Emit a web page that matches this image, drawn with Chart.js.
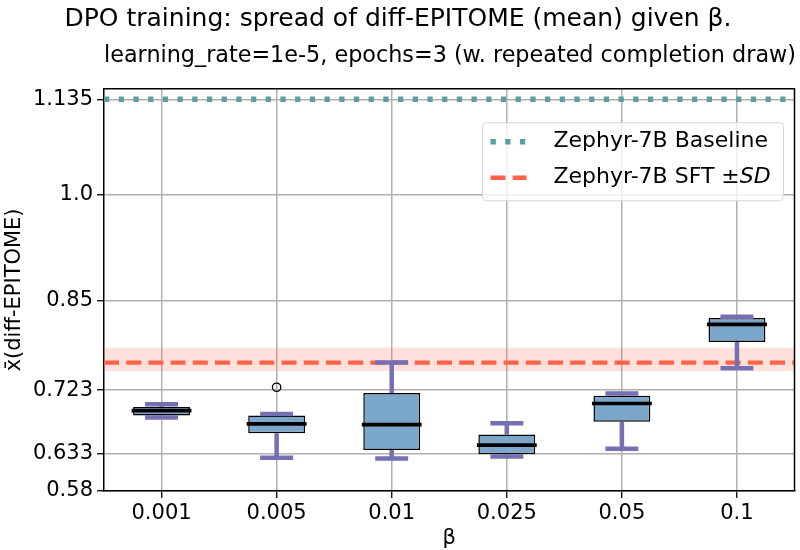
<!DOCTYPE html>
<html>
<head>
<meta charset="utf-8">
<script src="https://cdn.jsdelivr.net/npm/chart.js@4.4.1/dist/chart.umd.min.js"></script>
<style>
  html, body { margin: 0; padding: 0; background: #fff; }
  #wrap { width: 800px; height: 550px; }
</style>
</head>
<body>
<div id="wrap"><canvas id="boxChart" width="800" height="550"></canvas></div>
<script>
// categories (beta values)
const betas = ["0.001", "0.005", "0.01", "0.025", "0.05", "0.1"];

// box plot statistics
const whiskerLow = [0.684, 0.627, 0.626, 0.629, 0.640, 0.754];
const q1 = [0.687, 0.662, 0.638, 0.632, 0.678, 0.791];
const medians = [0.694, 0.675, 0.674, 0.645, 0.704, 0.816];
const q3 = [0.699, 0.687, 0.719, 0.660, 0.715, 0.825];
const whiskerHigh = [0.703, 0.689, 0.762, 0.676, 0.718, 0.827];
const outliers = [null, 0.727, null, null, null, null];

// reference lines
const baselineValue = 1.135;
const sftMean = 0.762;
const sftBand = [0.750, 0.783];

// y axis ticks
const yTicks = [0.58, 0.633, 0.723, 0.85, 1.0, 1.135];
const yTickLabels = ["0.58", "0.633", "0.723", "0.85", "1.0", "1.135"];

Chart.defaults.font.family = "'DejaVu Sans', sans-serif";
Chart.defaults.color = "#000";

const WHISKER_COLOR = "#7570b3";
const BOX_FILL = "#7ba7cb";
const BASELINE_COLOR = "#5f9ea0";
const SFT_COLOR = "#ff6347";
const BASELINE_DASH = [5.3, 9.4];
const SFT_DASH = [15, 7.2];

// whiskers, caps, medians and plot frame
const boxExtras = {
  id: "boxExtras",
  afterDatasetsDraw(chart) {
    const ctx = chart.ctx;
    const x = chart.scales.x;
    const y = chart.scales.y;
    const cat = x.width / betas.length;
    ctx.save();
    betas.forEach((b, i) => {
      const xc = x.getPixelForValue(i);
      // whiskers
      ctx.strokeStyle = WHISKER_COLOR;
      ctx.lineWidth = 4.5;
      ctx.lineCap = "butt";
      ctx.beginPath();
      ctx.moveTo(xc, y.getPixelForValue(q3[i]));
      ctx.lineTo(xc, y.getPixelForValue(whiskerHigh[i]));
      ctx.moveTo(xc, y.getPixelForValue(q1[i]));
      ctx.lineTo(xc, y.getPixelForValue(whiskerLow[i]));
      ctx.stroke();
      // caps
      const capHalf = cat * 0.143;
      ctx.beginPath();
      ctx.moveTo(xc - capHalf, y.getPixelForValue(whiskerHigh[i]));
      ctx.lineTo(xc + capHalf, y.getPixelForValue(whiskerHigh[i]));
      ctx.moveTo(xc - capHalf, y.getPixelForValue(whiskerLow[i]));
      ctx.lineTo(xc + capHalf, y.getPixelForValue(whiskerLow[i]));
      ctx.stroke();
      // median
      const medHalf = cat * 0.26;
      ctx.strokeStyle = "#000";
      ctx.lineWidth = 3.7;
      ctx.beginPath();
      ctx.moveTo(xc - medHalf, y.getPixelForValue(medians[i]));
      ctx.lineTo(xc + medHalf, y.getPixelForValue(medians[i]));
      ctx.stroke();
    });
    // frame (top and right)
    const a = chart.chartArea;
    ctx.strokeStyle = "#000";
    ctx.lineWidth = 1.5;
    ctx.beginPath();
    ctx.moveTo(a.left, a.top);
    ctx.lineTo(a.right, a.top);
    ctx.lineTo(a.right, a.bottom);
    ctx.stroke();
    ctx.restore();
  },
  afterDraw(chart) {
    // legend box in the upper right of the plot
    const ctx = chart.ctx;
    const a = chart.chartArea;
    const bx = a.right - 312, by = a.top + 34, bw = 301, bh = 78;
    ctx.save();
    ctx.beginPath();
    ctx.roundRect(bx, by, bw, bh, 4);
    ctx.fillStyle = "rgba(255,255,255,0.8)";
    ctx.fill();
    ctx.strokeStyle = "#d6d6d6";
    ctx.lineWidth = 1;
    ctx.stroke();

    const lx0 = bx + 8, lx1 = bx + 44, tx = bx + 71;
    const row1 = by + 19, row2 = by + 55;
    ctx.lineCap = "butt";
    ctx.strokeStyle = BASELINE_COLOR;
    ctx.lineWidth = 5.5;
    ctx.setLineDash(BASELINE_DASH);
    ctx.beginPath(); ctx.moveTo(lx0, row1); ctx.lineTo(lx1, row1); ctx.stroke();
    ctx.strokeStyle = SFT_COLOR;
    ctx.lineWidth = 4.3;
    ctx.setLineDash(SFT_DASH);
    ctx.beginPath(); ctx.moveTo(lx0, row2); ctx.lineTo(lx1, row2); ctx.stroke();
    ctx.setLineDash([]);

    ctx.fillStyle = "#000";
    ctx.textBaseline = "middle";
    ctx.textAlign = "left";
    ctx.font = "22px 'DejaVu Sans'";
    ctx.fillText("Zephyr-7B Baseline", tx, row1);
    const t2 = "Zephyr-7B SFT \u00b1";
    ctx.fillText(t2, tx, row2);
    const w2 = ctx.measureText(t2).width;
    ctx.font = "oblique 22px 'DejaVu Sans'";
    ctx.fillText("SD", tx + w2, row2);
    ctx.restore();
  }
};

const ctx = document.getElementById("boxChart").getContext("2d");
const boxChart = new Chart(ctx, {
  type: "bar",
  data: {
    labels: betas,
    datasets: [
      {
        type: "line",
        label: "SFT +SD",
        xAxisID: "x2",
        data: [{ x: -0.5, y: sftBand[1] }, { x: 5.5, y: sftBand[1] }],
        borderWidth: 0,
        borderColor: "rgba(0,0,0,0)",
        pointRadius: 0,
        fill: "+1",
        backgroundColor: "rgba(255, 99, 71, 0.2)",
        order: 6,
      },
      {
        type: "line",
        label: "SFT -SD",
        xAxisID: "x2",
        data: [{ x: -0.5, y: sftBand[0] }, { x: 5.5, y: sftBand[0] }],
        borderWidth: 0,
        borderColor: "rgba(0,0,0,0)",
        pointRadius: 0,
        fill: false,
        order: 5,
      },
      {
        type: "line",
        label: "Zephyr-7B SFT",
        xAxisID: "x2",
        data: [{ x: -0.5, y: sftMean }, { x: 5.5, y: sftMean }],
        borderColor: SFT_COLOR,
        borderWidth: 4.3,
        borderDash: SFT_DASH,
        borderCapStyle: "butt",
        pointRadius: 0,
        fill: false,
        order: 4,
      },
      {
        type: "line",
        label: "Zephyr-7B Baseline",
        xAxisID: "x2",
        data: [{ x: -0.5, y: baselineValue }, { x: 5.5, y: baselineValue }],
        borderColor: BASELINE_COLOR,
        borderWidth: 5.5,
        borderDash: BASELINE_DASH,
        borderCapStyle: "butt",
        pointRadius: 0,
        fill: false,
        order: 3,
      },
      {
        type: "bar",
        label: "IQR",
        data: betas.map((b, i) => [q1[i], q3[i]]),
        backgroundColor: BOX_FILL,
        borderColor: "#000",
        borderWidth: 1.5,
        borderSkipped: false,
        grouped: false,
        barPercentage: 0.494,
        categoryPercentage: 1,
        order: 2,
      },
      {
        type: "line",
        label: "Outliers",
        data: outliers,
        showLine: false,
        pointRadius: 4.2,
        pointBorderWidth: 1.3,
        pointBorderColor: "#000",
        pointBackgroundColor: "rgba(0,0,0,0)",
        order: 1,
      },
    ],
  },
  options: {
    responsive: false,
    animation: false,
    layout: { padding: { top: 0, right: 4, bottom: 0, left: 0 } },
    plugins: {
      legend: { display: false },
      tooltip: { enabled: false },
      title: {
        display: true,
        text: "DPO training: spread of diff-EPITOME (mean) given \u03b2.",
        font: { size: 25, weight: "normal" },
        color: "#000",
        padding: { top: 4, bottom: 6 },
      },
      subtitle: {
        display: true,
        text: "learning_rate=1e-5, epochs=3 (w. repeated completion draw)",
        align: "end",
        font: { size: 22.3, weight: "normal" },
        color: "#000",
        padding: { top: 3, bottom: 19 },
      },
    },
    scales: {
      x: {
        type: "category",
        offset: true,
        grid: {
          offset: false,
          color: "#b0b0b0",
          lineWidth: 1.5,
          tickColor: "#000",
          tickLength: 7,
          tickWidth: 1.3,
        },
        border: { color: "#000", width: 1.5 },
        ticks: { font: { size: 21 }, color: "#000", padding: 3, maxRotation: 0 },
        title: { display: true, text: "\u03b2", font: { size: 21, lineHeight: 1.05 }, color: "#000", padding: { top: 0, bottom: 0 } },
        afterFit(scale) { scale.height = 59; },
      },
      x2: {
        type: "linear",
        min: -0.5,
        max: 5.5,
        offset: false,
        display: false,
      },
      y: {
        type: "linear",
        min: 0.58,
        max: 1.15,
        afterBuildTicks(scale) {
          scale.ticks = yTicks.map(v => ({ value: v }));
        },
        grid: {
          color: "#b0b0b0",
          lineWidth: 1.5,
          tickColor: "#000",
          tickLength: 7,
          tickWidth: 1.3,
        },
        border: { color: "#000", width: 1.5 },
        ticks: {
          font: { size: 21 },
          color: "#000",
          padding: 4,
          callback: (v, i) => yTickLabels[i],
        },
        title: { display: true, text: "x\u0304(diff-EPITOME)", font: { size: 21 }, color: "#000", padding: { top: 2, bottom: 0 } },
        afterFit(scale) { scale.width = 104; },
      },
    },
  },
  plugins: [boxExtras],
});
</script>
</body>
</html>
